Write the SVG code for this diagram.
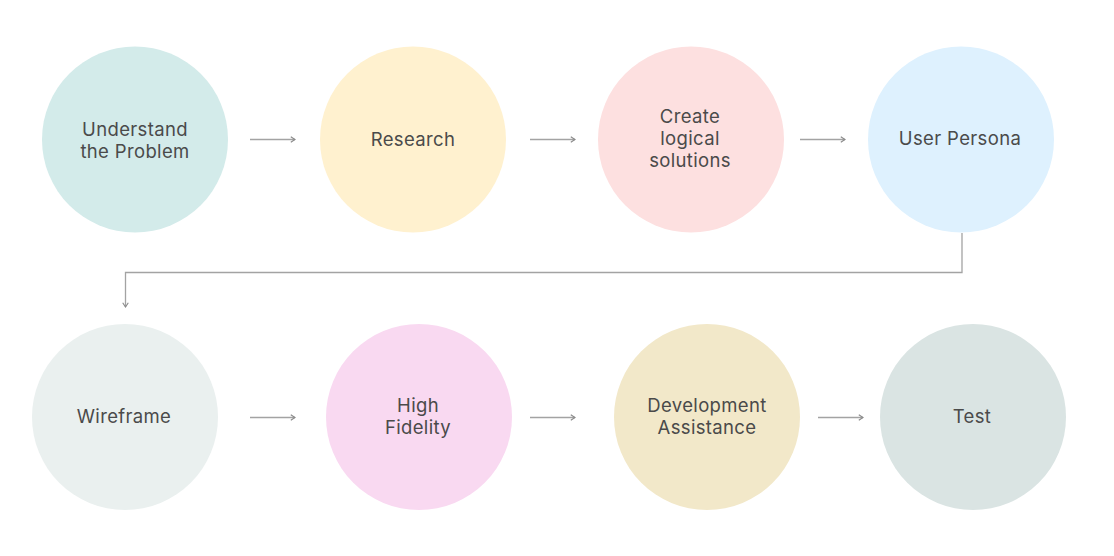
<svg xmlns="http://www.w3.org/2000/svg" width="1114" height="556" viewBox="0 0 1114 556">
  <style>
    .label { font-family: Inter, "Open Sans", "Liberation Sans", sans-serif; font-size: 18.5px; letter-spacing: 0.35px; fill: #4a4a4a; text-anchor: middle; }
    .link { fill: none; stroke: #a3a3a3; stroke-width: 1.3; }
  </style>
  <defs>
    <marker id="chev" viewBox="0 0 10 10" refX="9" refY="5" markerWidth="7" markerHeight="7" markerUnits="userSpaceOnUse" orient="auto">
      <path d="M3,1 L9,5 L3,9" fill="none" stroke="#8a8a8a" stroke-width="1.6"/>
    </marker>
  </defs>
  <rect width="1114" height="556" fill="#ffffff"/>

  <g id="understand">
    <circle cx="135" cy="139.5" r="93" fill="#d3ebea"/>
    <text class="label" x="135" y="136">Understand</text>
    <text class="label" x="135" y="158">the Problem</text>
  </g>
  <g id="research">
    <circle cx="413" cy="139.5" r="93" fill="#fff1cf"/>
    <text class="label" x="413" y="146">Research</text>
  </g>
  <g id="create">
    <circle cx="691" cy="139.5" r="93" fill="#fde0e0"/>
    <text class="label" x="690" y="123">Create</text>
    <text class="label" x="690" y="145">logical</text>
    <text class="label" x="690" y="167">solutions</text>
  </g>
  <g id="persona">
    <circle cx="961" cy="139.5" r="93" fill="#def1fe"/>
    <text class="label" x="960" y="145">User Persona</text>
  </g>
  <g id="wireframe">
    <circle cx="125" cy="417" r="93" fill="#eaf0ef"/>
    <text class="label" x="124" y="423">Wireframe</text>
  </g>
  <g id="fidelity">
    <circle cx="419" cy="417" r="93" fill="#f9d9f1"/>
    <text class="label" x="418" y="412">High</text>
    <text class="label" x="418" y="434">Fidelity</text>
  </g>
  <g id="development">
    <circle cx="707" cy="417" r="93" fill="#f2e8c9"/>
    <text class="label" x="707" y="412">Development</text>
    <text class="label" x="707" y="434">Assistance</text>
  </g>
  <g id="test">
    <circle cx="973" cy="417" r="93" fill="#dae4e3"/>
    <text class="label" x="972" y="423">Test</text>
  </g>

  <g id="connectors">
    <path class="link" d="M250,139.5 H295" marker-end="url(#chev)"/>
    <path class="link" d="M530,139.5 H575" marker-end="url(#chev)"/>
    <path class="link" d="M800,139.5 H845" marker-end="url(#chev)"/>
    <path class="link" d="M962,233 V272.5 H125.5 V307" marker-end="url(#chev)"/>
    <path class="link" d="M250,417.5 H295" marker-end="url(#chev)"/>
    <path class="link" d="M530,417.5 H575" marker-end="url(#chev)"/>
    <path class="link" d="M818,417.5 H863" marker-end="url(#chev)"/>
  </g>
</svg>
